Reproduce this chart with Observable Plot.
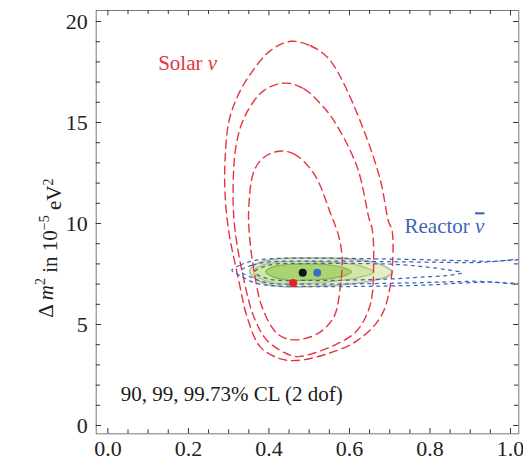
<!DOCTYPE html>
<html>
<head>
<meta charset="utf-8">
<script src="https://cdn.jsdelivr.net/npm/d3@7"></script>
<script src="https://cdn.jsdelivr.net/npm/@observablehq/plot@0.6"></script>
<style>
  html, body { margin: 0; padding: 0; background: #fff; }
</style>
</head>
<body>
<div id="chart"></div>
<script>
// ---- Data: [sin^2 theta, dm^2 (1e-5 eV^2)] ----
const solar9973 = [
  [0.454,19.02],[0.503,18.80],[0.545,18.23],[0.578,17.24],[0.636,14.60],[0.677,12.13],
  [0.697,10.10],[0.706,9.65],[0.702,7.01],[0.677,5.36],[0.619,4.20],[0.545,3.55],
  [0.470,3.22],[0.429,3.30],[0.379,3.88],[0.346,5.36],[0.325,7.18],[0.300,9.65],
  [0.291,11.50],[0.291,13.10],[0.300,15.00],[0.321,16.25],[0.354,17.40],[0.404,18.56]
];
const solar99 = [
  [0.441,16.95],[0.487,16.67],[0.528,15.93],[0.561,15.10],[0.619,12.80],[0.648,10.30],
  [0.657,9.65],[0.660,8.00],[0.652,6.02],[0.619,4.70],[0.561,3.96],[0.478,3.42],
  [0.454,3.47],[0.396,4.20],[0.363,5.36],[0.338,7.18],[0.316,9.65],[0.311,11.40],
  [0.318,13.80],[0.340,15.30],[0.387,16.58]
];
const solar90 = [
  [0.425,13.58],[0.462,13.45],[0.512,12.46],[0.553,10.50],[0.574,9.32],[0.582,8.20],
  [0.578,7.01],[0.561,5.36],[0.520,4.54],[0.462,4.24],[0.421,4.54],[0.383,5.86],
  [0.363,7.67],[0.352,9.32],[0.350,10.80],[0.363,12.60],[0.388,13.28]
];
const global9973 = [
  [0.352,7.62],[0.365,7.95],[0.390,8.15],[0.430,8.27],[0.500,8.30],[0.600,8.25],
  [0.660,8.08],[0.695,7.80],[0.707,7.58],[0.695,7.38],[0.660,7.18],[0.600,7.00],
  [0.500,6.88],[0.430,6.88],[0.390,7.02],[0.365,7.28]
];
const global99 = [
  [0.361,7.62],[0.380,7.92],[0.420,8.08],[0.500,8.13],[0.580,8.05],[0.630,7.88],
  [0.661,7.60],[0.630,7.36],[0.580,7.18],[0.500,7.03],[0.420,7.03],[0.380,7.27]
];
const global90 = [
  [0.392,7.62],[0.410,7.85],[0.450,7.97],[0.500,8.00],[0.560,7.92],[0.590,7.78],
  [0.605,7.60],[0.590,7.43],[0.560,7.30],[0.500,7.20],[0.450,7.20],[0.410,7.36]
];
const reactor9973 = [
  [0.308,7.68],[0.330,7.95],[0.360,8.15],[0.400,8.25],[0.500,8.29],[0.600,8.27],
  [0.700,8.24],[0.800,8.20],[0.880,8.16],[0.950,8.12],[1.060,8.10],
  [1.060,7.10],[0.950,7.10],[0.880,7.05],[0.800,6.96],[0.700,6.91],[0.600,6.88],
  [0.500,6.88],[0.400,6.93],[0.360,7.10],[0.330,7.40]
];
const reactor99 = [
  [0.330,7.65],[0.360,7.95],[0.400,8.10],[0.500,8.14],[0.700,8.11],[0.900,8.06],
  [1.060,8.03],[1.060,7.22],[0.900,7.14],[0.750,7.06],[0.600,7.01],[0.500,7.00],
  [0.400,7.05],[0.360,7.30]
];
const reactor90 = [
  [0.365,7.60],[0.400,7.94],[0.500,8.02],[0.650,8.01],[0.720,7.97],[0.780,7.87],
  [0.840,7.72],[0.880,7.56],[0.840,7.42],[0.780,7.35],[0.720,7.27],[0.600,7.20],
  [0.500,7.18],[0.400,7.25]
];
const bestFits = [
  {name: "global",  x: 0.484, y: 7.56},
  {name: "reactor", x: 0.520, y: 7.56},
  {name: "solar",   x: 0.460, y: 7.06}
];
const xMajorTicks = [0, 0.2, 0.4, 0.6, 0.8, 1.0];
const xMinorTicks = [0.05,0.1,0.15,0.25,0.3,0.35,0.45,0.5,0.55,0.65,0.7,0.75,0.85,0.9,0.95];
const yMajorTicks = [0, 5, 10, 15, 20];
const yMinorTicks = [1,2,3,4,6,7,8,9,11,12,13,14,16,17,18,19];
const solarLabel   = {text: "Solar ν",   x: 0.198, y: 17.92};
const reactorLabel = {text: "Reactor ν", x: 0.836, y: 9.85};
const clLabel      = {text: "90, 99, 99.73% CL (2 dof)", x: 0.032, y: 1.53};
const yAxisLabel = "Δ m² in 10⁻⁵ eV²";

// ---- styling ----
const RED = "#e6343f", BLUE = "#3a66b5";
const FW = 422.6, FH = 423.3; // frame size in px (from margins)
const px = d => d[0], py = d => d[1];

const redLine = (data) => Plot.line(data, {x: px, y: py, curve: "catmull-rom-closed",
  stroke: RED, strokeWidth: 1.4, strokeDasharray: "8,5", clip: true});
const blueLine = (data) => Plot.line(data, {x: px, y: py, curve: "catmull-rom-closed",
  stroke: BLUE, strokeWidth: 1.25, strokeDasharray: "3,4.5", clip: true});
const greenFill = (data, fill, stroke, sw) => Plot.line(data, {x: px, y: py, curve: "catmull-rom-closed",
  fill, stroke, strokeWidth: sw, clip: true});

const chart = Plot.plot({
  width: 523,
  height: 464,
  marginLeft: 95.7,
  marginRight: 4.7,
  marginTop: 10,
  marginBottom: 30.7,
  x: {domain: [-0.029, 1.0206]},
  y: {domain: [-0.411, 20.545]},
  style: {fontFamily: "'Liberation Serif', 'DejaVu Serif', serif", fontSize: "21px", background: "white", color: "#222"},
  marks: [
    greenFill(global9973, "#e5eec4", "#b3b7a3", 1.6),
    greenFill(global99, "#d3e5a3", "#a9c27c", 1.2),
    greenFill(global90, "#a9d470", "#86b256", 1.2),
    redLine(solar9973),
    redLine(solar99),
    redLine(solar90),
    blueLine(reactor9973),
    blueLine(reactor99),
    blueLine(reactor90),
    Plot.dot(bestFits, {x: "x", y: "y", r: 4, fill: d => d.name === "global" ? "#111" : d.name === "reactor" ? "#3d6cc0" : "#ea2028", stroke: "none"}),
    Plot.frame({stroke: "#7a7a7a", strokeWidth: 1}),
    // inward ticks on all four sides
    Plot.tickX(xMajorTicks, {x: d => d, insetTop: FH - 5.3, stroke: "#333"}),
    Plot.tickX(xMinorTicks, {x: d => d, insetTop: FH - 4, stroke: "#333"}),
    Plot.tickX(xMajorTicks, {x: d => d, insetBottom: FH - 5.3, stroke: "#333"}),
    Plot.tickX(xMinorTicks, {x: d => d, insetBottom: FH - 4, stroke: "#333"}),
    Plot.tickY(yMajorTicks, {y: d => d, insetRight: FW - 5.3, stroke: "#333"}),
    Plot.tickY(yMinorTicks, {y: d => d, insetRight: FW - 4.3, stroke: "#333"}),
    Plot.tickY(yMajorTicks, {y: d => d, insetLeft: FW - 5.3, stroke: "#333"}),
    Plot.tickY(yMinorTicks, {y: d => d, insetLeft: FW - 4.3, stroke: "#333"}),
    Plot.axisX({ticks: xMajorTicks, tickSize: 0, tickPadding: 7, tickFormat: d3.format(".1f"), fontSize: 22, label: null}),
    Plot.axisY({ticks: yMajorTicks, tickSize: 0, tickPadding: 8.4, fontSize: 22, label: null}),
    Plot.text([solarLabel], {x: "x", y: "y", text: "text", fill: RED, textAnchor: "middle", fontSize: 21}),
    Plot.text([reactorLabel], {x: "x", y: "y", text: "text", fill: BLUE, textAnchor: "middle", fontSize: 21}),
    Plot.text([clLabel], {x: "x", y: "y", text: "text", fill: "#1a1a1a", textAnchor: "start", fontSize: 21}),
    Plot.text([yAxisLabel], {frameAnchor: "left", textAnchor: "middle", dx: -50, dy: 26, rotate: -90, fontSize: 21, fill: "#222"})
  ]
});
document.getElementById("chart").appendChild(chart);

const texts = d3.select(chart).selectAll("text");
// rich formatting of the y-axis label (italic m, superscripts)
texts.filter(function() { return this.textContent === yAxisLabel; })
  .each(function() {
    const t = d3.select(this);
    t.text(null);
    t.append("tspan").text("Δ ");
    t.append("tspan").attr("font-style", "italic").text("m");
    t.append("tspan").attr("font-size", "14px").attr("dy", "-0.55em").text("2");
    t.append("tspan").attr("dy", "0.55em").text(" in 10");
    t.append("tspan").attr("font-size", "14px").attr("dy", "-0.55em").text("−5");
    t.append("tspan").attr("dy", "0.55em").text(" eV");
    t.append("tspan").attr("font-size", "14px").attr("dy", "-0.55em").text("2");
  });
// Greek nu slanted; antineutrino bar over the reactor nu
texts.filter(function() { return this.textContent === solarLabel.text; })
  .each(function() {
    const t = d3.select(this);
    t.text(null);
    t.append("tspan").text("Solar ");
    t.append("tspan").attr("font-style", "italic").text("ν");
  });
texts.filter(function() { return this.textContent === reactorLabel.text; })
  .each(function() {
    const t = d3.select(this);
    t.text(null);
    t.append("tspan").text("Reactor ");
    t.append("tspan").attr("font-style", "italic").style("text-decoration", "overline").text("ν");
  });
</script>
</body>
</html>
